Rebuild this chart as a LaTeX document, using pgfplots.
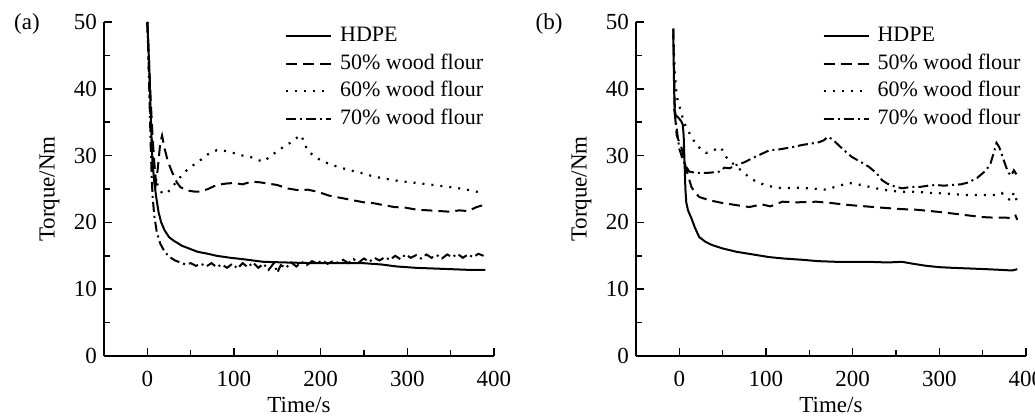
\documentclass[border=0pt]{standalone}
\usepackage{fontspec}
\setmainfont{Liberation Serif}
\usepackage{pgfplots}
\pgfplotsset{compat=1.18}
\newcommand{\fs}{\fontsize{11.5}{13.5}\selectfont}
\newcommand{\fl}{\fontsize{11}{13}\selectfont}
\pgfplotsset{
  panel/.style={
    scale only axis, width=195pt, height=167pt,
    xmin=-50, xmax=400, ymin=0, ymax=50,
    axis x line*=bottom, axis y line*=left,
    x axis line style={-}, y axis line style={-},
    axis line style={line width=0.8pt},
    xtick={0,100,...,400}, ytick={0,10,...,50},
    minor xtick={50,150,250,350}, minor ytick={5,15,25,35,45},
    tick align=inside,
    major tick length=4pt, minor tick length=3pt,
    every tick/.style={black, line width=0.8pt},
    tick label style={font=\fs},
    xticklabel style={yshift=-4pt},
    /pgf/number format/assume math mode=true,
    label style={font=\fs},
    xlabel={Time/s}, ylabel={Torque/Nm},
    xlabel style={at={(axis description cs:0.5,-0.148)}, anchor=center},
    ylabel style={at={(axis description cs:-0.14,0.5)}, anchor=center},
    clip mode=individual,
    legend cell align=left,
    legend style={draw=none, fill=none, inner sep=0pt, outer sep=0pt,
      font=\fl, row sep=3.1pt,
      nodes={inner sep=0pt, text height=8.2pt, text depth=2.5pt}},
    legend image code/.code={\draw[#1] (0pt,0pt) -- (22.5pt,0pt); \path (26.5pt,0pt);},
  },
  s1/.style={black, line width=1pt, solid},
  s2/.style={black, line width=1pt, dash pattern=on 5.5pt off 3pt},
  s3/.style={black, line width=1.1pt, dash pattern=on 1pt off 3.5pt},
  s4/.style={black, line width=1pt, dash pattern=on 5pt off 2pt on 1pt off 2pt},
}
\begin{document}
\begin{tikzpicture}
\path[use as bounding box] (-52pt,-31pt) rectangle (465.5pt,178pt);
\begin{axis}[panel, at={(0pt,0pt)}, anchor=south west,
  legend style={at={(rel axis cs:0.464,0.99)}, anchor=north west}]
\addplot[s1] coordinates {(0,50) (1,47) (2,44) (3,40) (4,36) (5,32) (6,29) (8,26) (10,24) (13,21.5) (16,20) (20,18.8) (25,17.8) (30,17.3) (40,16.5) (50,16.0) (58,15.6) (70,15.3) (80,15.0) (96,14.7) (110,14.5) (134,14.1) (160,14.0) (191,13.9) (220,13.9) (249,13.9) (270,13.7) (288,13.4) (310,13.2) (330,13.1) (350,13.0) (370,12.9) (390,12.9)};
\addlegendentry{HDPE}
\addplot[s2] coordinates {(0,50) (2,44) (4,38) (6,33) (8,29) (10,26) (12,28) (15,32) (17,33) (20,31) (24,29) (29,27.4) (34,26) (38,25.3) (45,24.8) (55,24.6) (61,24.6) (70,25.0) (80,25.6) (90,25.8) (99,25.9) (110,25.7) (120,26.1) (130,26.0) (140,25.8) (150,25.6) (161,25.1) (175,24.8) (185,24.9) (196,24.6) (210,24.0) (222,23.7) (234,23.4) (250,23.0) (260,22.9) (272,22.6) (285,22.3) (298,22.2) (311,21.9) (325,21.8) (337,21.7) (349,21.6) (360,21.8) (370,21.7) (380,22.3) (388,22.6)};
\addlegendentry{50\% wood flour}
\addplot[s3] coordinates {(0,50) (2,42) (4,35) (6,30) (9,27) (13,25) (18,24.3) (23,24.4) (30,25.5) (42,27.4) (50,28.3) (61,29.3) (70,30.2) (80,30.8) (90,30.7) (99,30.4) (110,30.0) (119,29.8) (126,29.4) (134,29.1) (145,30.2) (157,31.3) (166,32.0) (172,32.6) (176,33.1) (180,32.4) (184,31.0) (188,30.4) (196,29.6) (207,28.9) (220,28.3) (234,27.8) (250,27.3) (260,26.9) (272,26.6) (290,26.2) (311,25.9) (330,25.6) (349,25.3) (365,25.0) (380,24.6) (388,24.3)};
\addlegendentry{60\% wood flour}
\addplot[s4] coordinates {(0,50) (1,46) (2,41) (3,36) (4,31) (5,27) (6,24) (8,21) (11,18.5) (15,16.8) (20,15.6) (26,14.8) (32,14.3) (38,14.0) (44,13.7) (50,13.9) (56,13.5) (62,13.8) (68,13.4) (74,13.9) (80,13.3) (86,13.7) (92,13.2) (98,13.8) (104,13.1) (110,13.9) (116,13.3) (122,14.0) (128,13.2) (134,13.8) (140,12.9) (146,13.9) (150,12.5) (154,13.6) (160,13.2) (166,14.0) (172,13.4) (178,14.1) (184,13.6) (190,14.2) (196,13.9) (202,14.3) (208,13.8) (214,14.2) (220,14.0) (226,14.4) (232,13.9) (238,14.5) (244,14.0) (250,14.6) (256,14.1) (262,14.7) (268,14.3) (274,14.8) (280,14.4) (286,15.0) (292,14.5) (298,15.2) (304,14.7) (310,15.1) (316,14.6) (322,15.2) (328,14.7) (334,15.1) (340,14.6) (346,15.2) (352,14.8) (358,15.3) (364,14.7) (370,15.2) (376,14.8) (382,15.3) (388,15.0)};
\addlegendentry{70\% wood flour}
\end{axis}
\begin{axis}[panel, at={(266pt,0pt)}, anchor=south west,
  legend style={at={(rel axis cs:0.478,0.99)}, anchor=north west}]
\addplot[s1] coordinates {(-7,49) (-6.5,44) (-6,40) (-5.5,37) (-4,36) (-2,35.8) (0,35.5) (2,35.2) (4,34.6) (5,33) (6,29) (7,25) (8,23) (10,21.8) (14,20.6) (18,19.2) (23,17.8) (30,17.1) (38,16.6) (50,16.1) (66,15.6) (85,15.2) (104,14.8) (120,14.6) (142,14.4) (160,14.2) (181,14.1) (200,14.1) (219,14.1) (240,14.0) (257,14.1) (270,13.8) (285,13.5) (300,13.3) (315,13.2) (335,13.1) (354,13.0) (370,12.9) (384,12.8) (390,13.0)};
\addlegendentry{HDPE}
\addplot[s2] coordinates {(-7,49) (-6,42) (-5,36) (-3,33) (0,32) (3,31) (6,29) (10,27) (14,25.3) (18,24.5) (23,23.8) (35,23.3) (50,22.9) (65,22.6) (81,22.3) (95,22.7) (105,22.4) (119,23.1) (135,23.0) (158,23.1) (175,22.9) (196,22.6) (215,22.4) (234,22.2) (255,22.0) (273,21.9) (290,21.7) (311,21.4) (330,21.1) (349,20.8) (365,20.7) (378,20.7) (384,20.6) (388,21.0) (390,20.4)};
\addlegendentry{50\% wood flour}
\addplot[s3] coordinates {(-7,48) (-5,42) (-3,38.8) (0,37.5) (3,36) (7,34.5) (11.5,33.4) (20,31.5) (31,30.4) (40,30.8) (46,31.3) (50,30.8) (54,29.8) (60,29.0) (73,27.6) (82,26.6) (92,25.9) (105,25.4) (119,25.1) (135,25.2) (150,25.1) (169,24.9) (182,25.4) (196,25.9) (210,25.6) (227,25.1) (240,24.8) (254,24.6) (270,24.6) (292,24.4) (310,24.3) (331,24.1) (350,24.1) (365,24.1) (372,24.4) (378,23.6) (383,23.3) (386,24.5) (390,23.0)};
\addlegendentry{60\% wood flour}
\addplot[s4] coordinates {(-6,37) (-3,34) (0,31) (3,29.8) (7,28.5) (11.5,27.6) (20,27.4) (31,27.4) (40,27.5) (46,27.6) (52,28.2) (58,28.1) (66,28.6) (75,29.0) (84,29.6) (94,30.2) (104,30.8) (114,30.9) (123,31.1) (132,31.3) (142,31.6) (152,31.8) (161,32.0) (167,32.3) (171,32.8) (176,32.5) (181,31.9) (190,30.8) (199,29.8) (210,29.0) (219,28.3) (228,27.3) (234,26.3) (240,25.8) (248,25.4) (257,25.1) (267,25.3) (277,25.3) (287,25.5) (296,25.6) (305,25.5) (315,25.6) (325,25.7) (334,26.0) (344,26.7) (354,27.8) (359,28.8) (363,30.5) (366,31.9) (369,31.3) (372,30.2) (377,28.3) (380,27.4) (383,27.0) (386,27.8) (389,27.2)};
\addlegendentry{70\% wood flour}
\end{axis}
\node[font=\fs] at (-38.5pt,166pt) {(a)};
\node[font=\fs] at (222.5pt,166pt) {(b)};
\end{tikzpicture}
\end{document}
